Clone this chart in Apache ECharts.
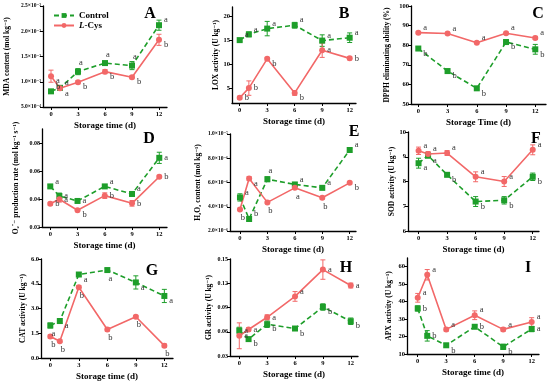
<!DOCTYPE html>
<html><head><meta charset="utf-8">
<script src="https://cdn.jsdelivr.net/npm/echarts@6/dist/echarts.min.js"></script>
<style>html,body{margin:0;padding:0;background:#fff}#c{width:550px;height:385px}</style>
</head><body><div id="c"></div>
<script>
// ---------- DATA ----------
const days = [0, 1, 3, 6, 9, 12];
const daysC = [0, 3, 6, 9, 12];
const xTicks = [0, 3, 6, 9, 12];
const seriesNames = ['Control', 'L-Cys'];

// A: MDA content (mol kg-1)
const mdaTicks = [0.0005, 0.0010, 0.0015, 0.0020, 0.0025];
const mdaControl = [0.00081, 0.00088, 0.00120, 0.00137, 0.00132, 0.00212];
const mdaControlErr = [0.00002, 0.00003, 0.00006, 0.00003, 0.00008, 0.00010];
const mdaControlSig = ['b', 'a', 'a', 'a', 'a', 'a'];
const mdaCys = [0.00111, 0.00087, 0.00099, 0.00120, 0.00109, 0.00183];
const mdaCysErr = [0.00012, 0.00003, 0.00003, 0.00004, 0.00003, 0.00011];
const mdaCysSig = ['a', 'a', 'b', 'b', 'b', 'b'];

// B: LOX activity (U kg-1)
const loxTicks = [5, 10, 15, 20];
const loxControl = [15.1, 16.3, 17.5, 18.2, 15.0, 15.6];
const loxControlErr = [0.3, 0.5, 1.5, 0.6, 1.2, 1.0];
const loxControlSig = ['a', 'a', 'a', 'a', 'a', 'a'];
const loxCys = [3.1, 5.1, 11.2, 4.1, 13.0, 11.3];
const loxCysErr = [0.3, 1.5, 0.3, 0.5, 1.5, 0.3];
const loxCysSig = ['b', 'b', 'b', 'b', 'a', 'b'];

// C: DPPH eliminating ability (%)
const dpphTicks = [50, 60, 70, 80, 90, 100];
const dpphControl = [78.3, 66.8, 58.0, 81.6, 77.9];
const dpphControlErr = [0.8, 1.0, 0.8, 1.2, 2.5];
const dpphControlSig = ['b', 'b', 'b', 'b', 'b'];
const dpphCys = [86.4, 86.0, 81.3, 86.1, 83.7];
const dpphCysErr = [0.5, 0.5, 0.5, 0.5, 0.8];
const dpphCysSig = ['a', 'a', 'a', 'a', 'a'];

// D: O2- production rate (mol kg-1 s-1)
const o2Ticks = [0.02, 0.04, 0.06, 0.08];
const o2Control = [0.0490, 0.0422, 0.0386, 0.0490, 0.0436, 0.0694];
const o2ControlErr = [0.001, 0.002, 0.001, 0.001, 0.0015, 0.004];
const o2ControlSig = ['a', 'a', 'a', 'a', 'a', 'a'];
const o2Cys = [0.0366, 0.0398, 0.0320, 0.0424, 0.0369, 0.0559];
const o2CysErr = [0.001, 0.002, 0.001, 0.002, 0.002, 0.001];
const o2CysSig = ['b', 'a', 'b', 'b', 'b', 'b'];

// E: H2O2 content (mol kg-1)
const h2o2Ticks = [2e-6, 4e-6, 6e-6, 8e-6, 1e-5];
const h2o2Control = [4.77e-6, 2.99e-6, 6.27e-6, 5.84e-6, 5.56e-6, 8.68e-6];
const h2o2ControlErr = [0.3e-6, 0.15e-6, 0.2e-6, 0.15e-6, 0.15e-6, 0.15e-6];
const h2o2ControlSig = ['a', 'b', 'a', 'a', 'a', 'a'];
const h2o2Cys = [3.78e-6, 6.33e-6, 4.36e-6, 5.56e-6, 4.74e-6, 5.97e-6];
const h2o2CysErr = [0.1e-6, 0.15e-6, 0.1e-6, 0.1e-6, 0.1e-6, 0.1e-6];
const h2o2CysSig = ['b', 'a', 'b', 'a', 'b', 'b'];

// F: SOD activity (U kg-1)
const sodTicks = [6, 7, 8, 9, 10];
const sodControl = [8.74, 9.05, 8.27, 7.19, 7.24, 8.19];
const sodControlErr = [0.2, 0.1, 0.05, 0.2, 0.15, 0.15];
const sodControlSig = ['a', 'a', 'b', 'b', 'b', 'b'];
const sodCys = [9.24, 9.11, 9.15, 8.19, 8.00, 9.28];
const sodCysErr = [0.15, 0.1, 0.1, 0.2, 0.2, 0.2];
const sodCysSig = ['a', 'a', 'a', 'a', 'a', 'a'];

// G: CAT activity (U kg-1)
const catTicks = [0, 1.5, 3.0, 4.5, 6.0];
const catControl = [1.97, 2.24, 5.06, 5.33, 4.58, 3.76];
const catControlErr = [0.15, 0.15, 0.1, 0.1, 0.4, 0.4];
const catControlSig = ['a', 'a', 'a', 'a', 'a', 'a'];
const catCys = [1.30, 1.02, 4.29, 1.73, 2.50, 0.75];
const catCysErr = [0.1, 0.08, 0.1, 0.1, 0.08, 0.1];
const catCysSig = ['b', 'b', 'b', 'b', 'b', 'b'];

// H: GR activity (U kg-1)
const grTicks = [0.03, 0.06, 0.09, 0.12, 0.15];
const grControl = [0.0616, 0.0509, 0.0693, 0.0640, 0.0906, 0.0730];
const grControlErr = [0.004, 0.002, 0.004, 0.002, 0.004, 0.004];
const grControlSig = ['a', 'b', 'b', 'b', 'b', 'b'];
const grCys = [0.0550, 0.0628, 0.0779, 0.1037, 0.1369, 0.1172];
const grCysErr = [0.016, 0.002, 0.003, 0.006, 0.012, 0.003];
const grCysSig = ['a', 'a', 'a', 'a', 'a', 'a'];

// I: APX activity (U kg-1)
const apxTicks = [10, 20, 30, 40, 50, 60];
const apxControl = [36.1, 20.4, 15.0, 25.6, 14.1, 24.3];
const apxControlErr = [1.5, 3, 1, 1, 1.5, 1.5];
const apxControlSig = ['b', 'b', 'b', 'b', 'b', 'a'];
const apxCys = [42.2, 55.4, 24.1, 32.2, 24.1, 28.3];
const apxCysErr = [2.5, 3, 1, 2.5, 1, 2.5];
const apxCysSig = ['a', 'a', 'a', 'a', 'a', 'a'];

// ---------- LAYOUT / STYLE ----------
const SERIF = '"Liberation Serif", "DejaVu Serif", serif';
const GREEN = '#1e9e2a';
const RED = '#f26868';

function sup(n) {
  const m = {'-':'⁻','0':'⁰','1':'¹','2':'²','3':'³','4':'⁴','5':'⁵','6':'⁶','7':'⁷','8':'⁸','9':'⁹'};
  return String(n).split('').map(c => m[c]).join('');
}
function sci(v) {
  const e = Math.floor(Math.log10(v) + 1e-9);
  const m = v / Math.pow(10, e);
  return m.toFixed(1) + '×10' + sup(e);
}

const panels = [
  {tag:'A', x:days, c:mdaControl, ce:mdaControlErr, cs:mdaControlSig, r:mdaCys, re:mdaCysErr, rs:mdaCysSig,
   ticks:mdaTicks, fmt:sci, lblSize:5.5, yname:'MDA content (mol kg⁻¹)', xname:'Storage time (d)',
   L:43, R:167, T:6, B:107, xmin:-0.89, xmax:12.89, ymin:0.0005, ymax:0.0025, gap:32, tagX:150, tagY:14,
   cp:['ru','ru','u','u','u','ru'], rp:['rd','rd','rd','rd','rd','rd']},
  {tag:'B', x:days, c:loxControl, ce:loxControlErr, cs:loxControlSig, r:loxCys, re:loxCysErr, rs:loxCysSig,
   ticks:loxTicks, fmt:v=>String(v), lblSize:6.5, yname:'LOX activity (U kg⁻¹)', xname:'Storage time (d)',
   L:232, R:356, T:7, B:103, xmin:-0.84, xmax:12.69, ymin:2, ymax:22, gap:12, tagX:344, tagY:14,
   cp:['ru','ru','ru','ru','ru','ru'], rp:['r','r','rd','rd','r','r']},
  {tag:'C', x:daysC, c:dpphControl, ce:dpphControlErr, cs:dpphControlSig, r:dpphCys, re:dpphCysErr, rs:dpphCysSig,
   ticks:dpphTicks, fmt:v=>String(v), lblSize:6.5, yname:'DPPH eliminating ability (%)', xname:'Storage Time (d)',
   L:411, R:546, T:6, B:104, xmin:-0.75, xmax:13.1, ymin:50, ymax:100, gap:20, tagX:538, tagY:14,
   cp:['rd','rd','rd','rd','rd'], rp:['ru','ru','ru','ru','ru']},
  {tag:'D', x:days, c:o2Control, ce:o2ControlErr, cs:o2ControlSig, r:o2Cys, re:o2CysErr, rs:o2CysSig,
   ticks:o2Ticks, fmt:v=>v.toFixed(2), lblSize:6, yname:'O₂˙⁻ production rate (mol kg⁻¹ s⁻¹)', xname:'Storage time (d)',
   L:42, R:167, T:129, B:227, xmin:-0.91, xmax:12.85, ymin:0.02, ymax:0.09, gap:22, tagX:149, tagY:139,
   cp:['ru','r','r','ru','ru','r'], rp:['r','r','rd','r','r','r']},
  {tag:'E', x:days, c:h2o2Control, ce:h2o2ControlErr, cs:h2o2ControlSig, r:h2o2Cys, re:h2o2CysErr, rs:h2o2CysSig,
   ticks:h2o2Ticks, fmt:sci, lblSize:5.5, yname:'H₂O₂ content (mol kg⁻¹)', xname:'Storage time (d)',
   L:230, R:356, T:134, B:231, xmin:-1.09, xmax:12.69, ymin:2e-6, ymax:1e-5, gap:28, tagX:354, tagY:132,
   cp:['ru','ru','u','ru','ru','ru'], rp:['d','rd','d','d','d','rd']},
  {tag:'F', x:days, c:sodControl, ce:sodControlErr, cs:sodControlSig, r:sodCys, re:sodCysErr, rs:sodCysSig,
   ticks:sodTicks, fmt:v=>String(v), lblSize:6.5, yname:'SOD activity (U kg⁻¹)', xname:'Storage time (d)',
   L:408, R:539, T:132, B:231, xmin:-1.11, xmax:12.66, ymin:6, ymax:10, gap:11, tagX:536, tagY:139,
   cp:['rd','rd','rd','rd','rd','rd'], rp:['ru','ru','ru','ru','ru','ru']},
  {tag:'G', x:days, c:catControl, ce:catControlErr, cs:catControlSig, r:catCys, re:catCysErr, rs:catCysSig,
   ticks:catTicks, fmt:v=>v.toFixed(1), lblSize:6.5, yname:'CAT activity (U kg⁻¹)', xname:'Storage time (d)',
   L:41, R:173, T:259, B:358, xmin:-0.98, xmax:12.91, ymin:0, ymax:6, gap:11, tagX:152, tagY:271,
   cp:['d','rd','rd','d','rd','rd'], rp:['d','d','d','d','d','d']},
  {tag:'H', x:days, c:grControl, ce:grControlErr, cs:grControlSig, r:grCys, re:grCysErr, rs:grCysSig,
   ticks:grTicks, fmt:v=>v.toFixed(2), lblSize:6, yname:'GR activity (U kg⁻¹)', xname:'Storage time (d)',
   L:230, R:358, T:259, B:356, xmin:-1.0, xmax:12.78, ymin:0.03, ymax:0.15, gap:17, tagX:346, tagY:268,
   cp:['rd','rd','rd','rd','rd','rd'], rp:['ru','r','r','ru','r','r']},
  {tag:'I', x:days, c:apxControl, ce:apxControlErr, cs:apxControlSig, r:apxCys, re:apxCysErr, rs:apxCysSig,
   ticks:apxTicks, fmt:v=>String(v), lblSize:6.5, yname:'APX activity (U kg⁻¹)', xname:'Storage time (d)',
   L:407, R:539, T:258, B:354, xmin:-1.13, xmax:12.77, ymin:10, ymax:65, gap:14, tagX:528, tagY:268,
   cp:['r','r','rd','r','rd','r'], rp:['ru','ru','ru','ru','ru','ru']}
];

const posMap = {
  r:['right',[0,0]], ru:['right',[0,-5]], rd:['right',[0,5]],
  d:['bottom',[3,-1]], u:['top',[3,1]]
};
function lab(letter, code) {
  const p = posMap[code];
  return {show:true, formatter:letter, position:p[0], offset:p[1], distance:2,
    fontFamily:SERIF, fontSize:8.5, color:'#333'};
}

const grids = [], xAxes = [], yAxes = [], series = [], graphics = [];
const axisLine = {show:true, onZero:false, lineStyle:{color:'#000', width:1.3}};

panels.forEach((p, i) => {
  grids.push({left:p.L, top:p.T, width:p.R - p.L, height:p.B - p.T, containLabel:false, outerBoundsMode:'none'});
  xAxes.push({
    type:'value', gridIndex:i, min:p.xmin, max:p.xmax,
    axisLine, splitLine:{show:false},
    axisTick:{show:true, customValues:xTicks, length:3, lineStyle:{color:'#000', width:1}},
    axisLabel:{show:true, customValues:xTicks, fontFamily:SERIF, fontWeight:'bold', fontSize:6.5, color:'#000', margin:4},
    name:p.xname, nameLocation:'middle', nameGap:14,
    nameTextStyle:{fontFamily:SERIF, fontWeight:'bold', fontSize:9, color:'#000'}
  });
  yAxes.push({
    type:'value', gridIndex:i, min:p.ymin, max:p.ymax,
    axisLine, splitLine:{show:false},
    axisTick:{show:true, customValues:p.ticks, length:3, lineStyle:{color:'#000', width:1}},
    axisLabel:{show:true, customValues:p.ticks, formatter:p.fmt, fontFamily:SERIF, fontWeight:'bold', fontSize:p.lblSize, color:'#000', margin:2},
    name:p.yname, nameLocation:'middle', nameGap:p.gap, nameRotate:90,
    nameTextStyle:{fontFamily:SERIF, fontWeight:'bold', fontSize:7.5, color:'#000'}
  });

  const mk = (name, vals, errs, sigs, codes, color, symbol, dashed) => {
    series.push({
      type:'custom', xAxisIndex:i, yAxisIndex:i, silent:true, z:1,
      data:p.x.map((d, k) => [d, vals[k] - errs[k], vals[k] + errs[k]]),
      encode:{x:0, y:[1, 2]},
      renderItem:(params, api) => {
        const x = api.value(0);
        const lo = api.coord([x, api.value(1)]);
        const hi = api.coord([x, api.value(2)]);
        const w = 2.5;
        const st = {stroke:color, lineWidth:1};
        return {type:'group', children:[
          {type:'line', shape:{x1:lo[0], y1:lo[1], x2:hi[0], y2:hi[1]}, style:st},
          {type:'line', shape:{x1:lo[0]-w, y1:lo[1], x2:lo[0]+w, y2:lo[1]}, style:st},
          {type:'line', shape:{x1:hi[0]-w, y1:hi[1], x2:hi[0]+w, y2:hi[1]}, style:st}
        ]};
      }
    });
    series.push({
      name, type:'line', xAxisIndex:i, yAxisIndex:i, z:2,
      symbol, symbolSize:6,
      lineStyle:{color, width:1.6, type:dashed ? [5, 3] : 'solid'},
      itemStyle:{color},
      emphasis:{disabled:true},
      data:p.x.map((d, k) => ({value:[d, vals[k]], label:lab(sigs[k], codes[k])}))
    });
  };
  mk('Control', p.c, p.ce, p.cs, p.cp, GREEN, 'rect', true);
  mk('L-Cys', p.r, p.re, p.rs, p.rp, RED, 'circle', false);

  graphics.push({type:'text', x:p.tagX, y:p.tagY, style:{text:p.tag, fontFamily:SERIF, fontWeight:'bold', fontSize:16, fill:'#000', align:'center', verticalAlign:'middle'}});
});

const chart = echarts.init(document.getElementById('c'), null, {renderer:'canvas'});
chart.setOption({
  animation:false,
  backgroundColor:'#fff',
  grid:grids, xAxis:xAxes, yAxis:yAxes, series,
  graphic:graphics,
  legend:{
    data:seriesNames, orient:'vertical', left:48, top:6, itemWidth:20, itemHeight:6, itemGap:1,
    textStyle:{fontFamily:SERIF, fontWeight:'bold', fontSize:9, color:'#000',
      rich:{i:{fontFamily:SERIF, fontWeight:'bold', fontStyle:'italic', fontSize:9, color:'#000'}}},
    formatter:n => n === 'L-Cys' ? '{i|L}-Cys' : n
  }
});
</script></body></html>
